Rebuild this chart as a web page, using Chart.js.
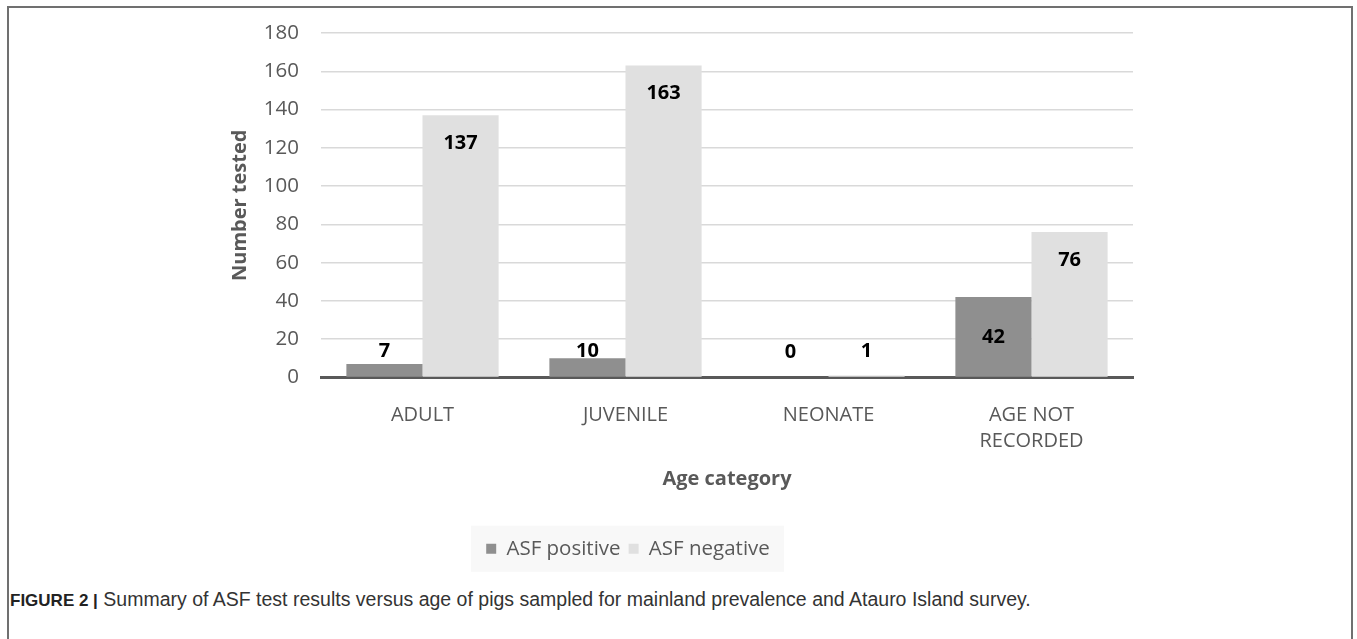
<!DOCTYPE html>
<html>
<head>
<meta charset="utf-8">
<script src="https://cdn.jsdelivr.net/npm/chart.js@4.4.1/dist/chart.umd.min.js"></script>
<style>
  html, body { margin: 0; padding: 0; background: #fff; }
  body { width: 1357px; height: 639px; position: relative; overflow: hidden; }
  #frame { position: absolute; left: 7px; top: 6px; width: 1346px; height: 700px;
           border: 2px solid #707070; box-sizing: border-box; }
  #wrap { position: absolute; left: 8px; top: 6px; width: 1242px; height: 577px; }
  #wrap canvas { display: block; }
  #caption { position: absolute; left: 10px; top: 588px; font-family: "Liberation Sans", Arial, sans-serif;
             font-size: 19.5px; color: #333; white-space: nowrap; }
  #caption b { color: #222; font-size: 17px; }
</style>
</head>
<body>
<div id="frame"></div>
<div id="wrap"><canvas id="c" width="1242" height="577"></canvas></div>
<div id="caption"><b>FIGURE 2 |</b> Summary of ASF test results versus age of pigs sampled for mainland prevalence and Atauro Island survey.</div>
<script>
const categories = ["ADULT", "JUVENILE", "NEONATE", ["AGE NOT", "RECORDED"]];
const asfPositive = [7, 10, 0, 42];
const asfNegative = [137, 163, 1, 76];
const yTicksMin = 0, yTicksMax = 180, yStep = 20;
const seriesNames = ["ASF positive", "ASF negative"];
const xTitle = "Age category";
const yTitle = "Number tested";

const FONT = '"Open Sans", "DejaVu Sans", sans-serif';
const LEG_PAD = 8, LEG_FONT = 20.5;

const legendBg = {
  id: 'legendBg',
  beforeDraw(chart) {
    const lg = chart.legend;
    if (!lg) return;
    const ctx = chart.ctx;
    const cx = lg.left + lg.width / 2;
    const cy = lg.top + LEG_PAD + LEG_FONT / 2;
    ctx.save();
    ctx.fillStyle = '#f8f8f8';
    ctx.fillRect(cx - 157, cy - 23, 313, 46);
    ctx.restore();
  }
};

const valueLabels = {
  id: 'valueLabels',
  afterDatasetsDraw(chart) {
    const ctx = chart.ctx;
    ctx.save();
    ctx.font = 'bold 20px ' + FONT;
    ctx.fillStyle = '#000';
    ctx.textAlign = 'center';
    ctx.textBaseline = 'middle';
    chart.data.datasets.forEach((ds, di) => {
      const meta = chart.getDatasetMeta(di);
      meta.data.forEach((bar, i) => {
        const v = ds.data[i];
        const h = bar.base - bar.y;
        let y;
        if (h > 40) {
          y = di === 0 ? (bar.y + bar.base) / 2 : bar.y + 28;
        } else {
          y = bar.base - 25;
        }
        ctx.fillText(String(v), bar.x, y);
      });
    });
    ctx.restore();
  }
};

new Chart(document.getElementById('c'), {
  type: 'bar',
  data: {
    labels: categories,
    datasets: [
      { label: seriesNames[0], data: asfPositive, backgroundColor: '#8f8f8f',
        categoryPercentage: 0.75, barPercentage: 1.0 },
      { label: seriesNames[1], data: asfNegative, backgroundColor: '#e0e0e0',
        categoryPercentage: 0.75, barPercentage: 1.0 }
    ]
  },
  options: {
    responsive: false,
    animation: false,
    devicePixelRatio: 1,
    layout: { padding: { top: 27, right: 117, left: 115, bottom: 14 } },
    plugins: {
      tooltip: { enabled: false },
      legend: {
        position: 'bottom',
        labels: {
          font: { family: FONT, size: LEG_FONT },
          color: '#595959',
          boxWidth: 10, boxHeight: 10,
          padding: LEG_PAD
        }
      }
    },
    scales: {
      x: {
        grid: { display: false, drawTicks: false },
        border: { display: true, color: '#595959', width: 3 },
        ticks: { font: { family: FONT, size: 20, lineHeight: 1.3 }, color: '#595959', padding: 25,
                 maxRotation: 0, autoSkip: false },
        title: { display: true, text: xTitle, color: '#595959',
                 font: { family: FONT, size: 20, weight: 'bold', lineHeight: 1.2 },
                 padding: { top: 4, bottom: 39 } },
        afterFit(scale) { scale.height = 153; }
      },
      y: {
        min: yTicksMin, max: yTicksMax,
        grid: { drawTicks: false, lineWidth: 1.5,
                color: (c) => c.tick && c.tick.value === 0 ? 'rgba(0,0,0,0)' : '#d9d9d9' },
        border: { display: false },
        ticks: { stepSize: yStep, font: { family: FONT, size: 20.5 }, color: '#595959', padding: 22 },
        title: { display: true, text: yTitle, color: '#595959',
                 font: { family: FONT, size: 20, weight: 'bold', lineHeight: 1.2 },
                 padding: { top: 105, bottom: 4 } },
        afterFit(scale) { scale.width = 198; scale.paddingTop = 12; scale.paddingBottom = 12; }
      }
    }
  },
  plugins: [legendBg, valueLabels]
});
</script>
</body>
</html>
